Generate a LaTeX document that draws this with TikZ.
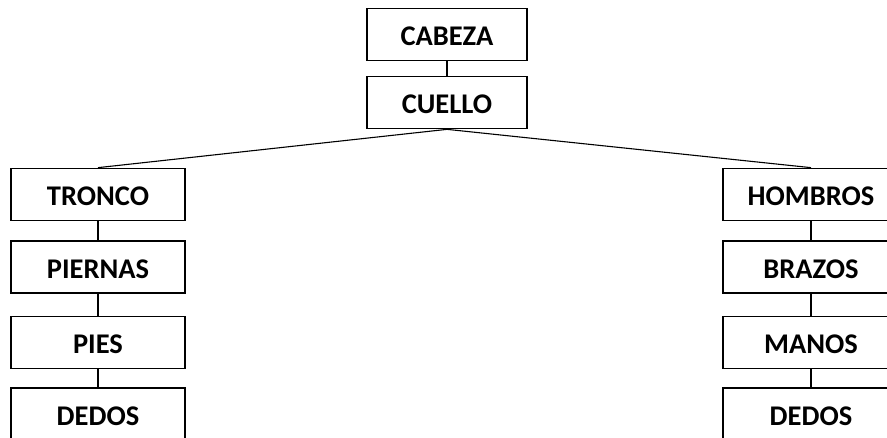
\documentclass[tikz,border=0pt]{standalone}
\usepackage{fontspec}
\setmainfont{Carlito}
\usetikzlibrary{positioning}

\begin{document}
\begin{tikzpicture}[x=1pt,y=-1pt,line width=1.1pt,
    part/.style={draw,line width=1.7pt,inner sep=0pt,minimum height=52pt,
      text height=23pt,text depth=0pt,
      font=\fontsize{28.5}{32}\selectfont\bfseries}]
     \useasboundingbox (0,0) rectangle (887,438);
     \clip (0,0) rectangle (887,438);

     % head and neck
     \node[part,minimum width=160pt] (cabeza) at (447,34.5) {CABEZA};
     \node[part,minimum width=160pt] (cuello) at (447,102.5) {CUELLO};

     % left and right columns
     \foreach \nm/\txt/\y in
     {tronco/TRONCO/194.5,piernas/PIERNAS/267,pies/PIES/342.5,dedosl/DEDOS/414}
       {
         \node[part,minimum width=174pt] (\nm) at (98,\y) {\txt};
       }
     \foreach \nm/\txt/\y in
     {hombros/HOMBROS/194.5,brazos/BRAZOS/267,manos/MANOS/342.5,dedosr/DEDOS/414}
       {
         \node[part,minimum width=176pt] (\nm) at (811,\y) {\txt};
       }

     %lines
     \draw (cabeza) -- (cuello);
     \draw (cuello.south) -- (tronco.north);
     \draw (cuello.south) -- (hombros.north);
     \draw (tronco) -- (piernas);
     \draw (piernas) -- (pies);
     \draw (pies) -- (dedosl);
     \draw (hombros) -- (brazos);
     \draw (brazos) -- (manos);
     \draw (manos) -- (dedosr);
\end{tikzpicture}
\end{document}
